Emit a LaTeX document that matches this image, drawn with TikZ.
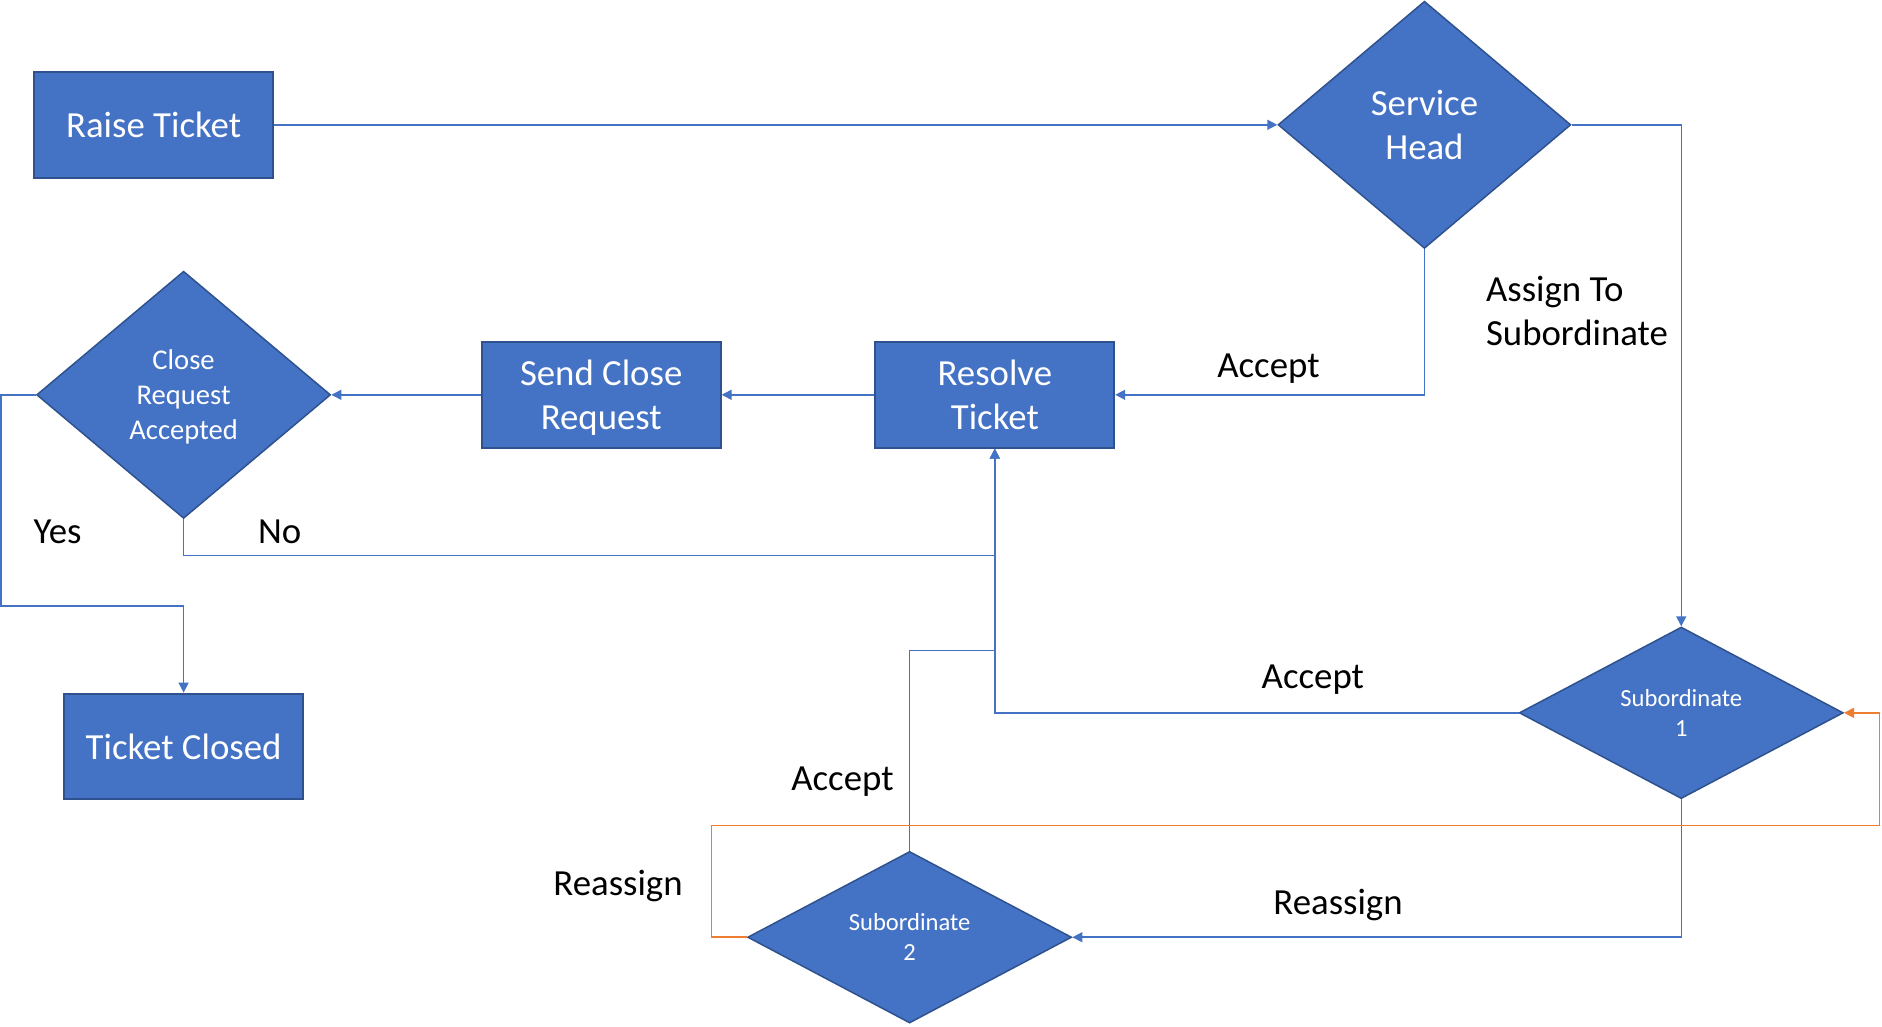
\documentclass[tikz,border=0pt]{standalone}
\usepackage{fontspec}
\setmainfont{Carlito}
\usetikzlibrary{shapes.geometric,arrows.meta}
\definecolor{officeblue}{HTML}{4472C4}
\definecolor{officeborder}{HTML}{2F528F}
\definecolor{officeorange}{HTML}{ED7D31}
\begin{document}
\begin{tikzpicture}[
 x=0.6pt, y=-0.6pt,
 >={Triangle[length=5pt,width=5pt]},
 align=center,
 inner sep=0pt,
 flow/.style={draw=officeblue,line width=0.75pt},
 box/.style={draw=officeborder,line width=1pt,fill=officeblue,text=white,rectangle,minimum width=119.4pt,minimum height=52.8pt,text depth=0pt,font=\fontsize{18.4}{22.2}\selectfont},
 decision/.style={draw=officeborder,line width=0.75pt,fill=officeblue,text=white,diamond,minimum width=146.4pt,minimum height=123.6pt,aspect=1.18,text depth=0pt},
 subdecision/.style={decision,minimum width=162pt,minimum height=85.8pt,aspect=1.89,font=\fontsize{12.3}{15}\selectfont},
 label/.style={text=black,font=\fontsize{18.4}{22.2}\selectfont}
]
\useasboundingbox (0,0) rectangle (1568.3,855);
\node (raise-ticket) [box] at (128,104) {Raise Ticket};
\node (service-head) [decision,font=\fontsize{18.4}{22.2}\selectfont] at (1187,104) {Service\\Head};
\node (close-accepted) [decision,minimum width=147pt,font=\fontsize{14.3}{17.4}\selectfont] at (153,329) {Close\\Request\\Accepted};
\node (send-close-request) [box] at (501,329) {Send Close\\Request};
\node (resolve-ticket) [box] at (829,329) {Resolve\\Ticket};
\node (ticket-closed) [box] at (153,622) {Ticket Closed};
\node (subordinate1) [subdecision] at (1401,594) {Subordinate\\1};
\node (subordinate2) [subdecision] at (758,781) {Subordinate\\2};
\coordinate (yes-corner) at (1,505);
\coordinate (no-join) at (829,463);
\coordinate (sub2-join) at (829,542);
\coordinate (loop-left) at (593,688);
\coordinate (loop-right) at (1566,594);
% connectors
\draw[flow,->] (raise-ticket.east) -- (service-head.west);
\draw[flow,->] (service-head.east) -| (subordinate1.north);
\draw[flow,->] (service-head.south) |- (resolve-ticket.east);
\draw[flow,->] (resolve-ticket.west) -- (send-close-request.east);
\draw[flow,->] (send-close-request.west) -- (close-accepted.east);
\draw[flow,->] (close-accepted.west) -| (yes-corner) -| (ticket-closed.north);
\draw[flow,->] (close-accepted.south) |- (no-join) -- (resolve-ticket.south);
\draw[flow,->] (subordinate1.west) -| (resolve-ticket.south);
\draw[flow] (subordinate2.north) |- (sub2-join);
\draw[flow,->] (subordinate1.south) |- (subordinate2.east);
\draw[flow,draw=officeorange,->] (subordinate2.west) -| (loop-left) -| (loop-right) -- (subordinate1.east);
% labels
\node (accept-head) [label] at (1057,307) {Accept};
\node (assign-label) [label,align=left,anchor=west] at (1238,259) {Assign To\\Subordinate};
\node (yes-label) [label] at (48,443) {Yes};
\node (no-label) [label] at (233,443) {No};
\node (accept-sub1) [label] at (1094,566) {Accept};
\node (accept-sub2) [label] at (702,651) {Accept};
\node (reassign-sub1) [label] at (1115,754) {Reassign};
\node (reassign-sub2) [label] at (515,738) {Reassign};
\end{tikzpicture}
\end{document}
